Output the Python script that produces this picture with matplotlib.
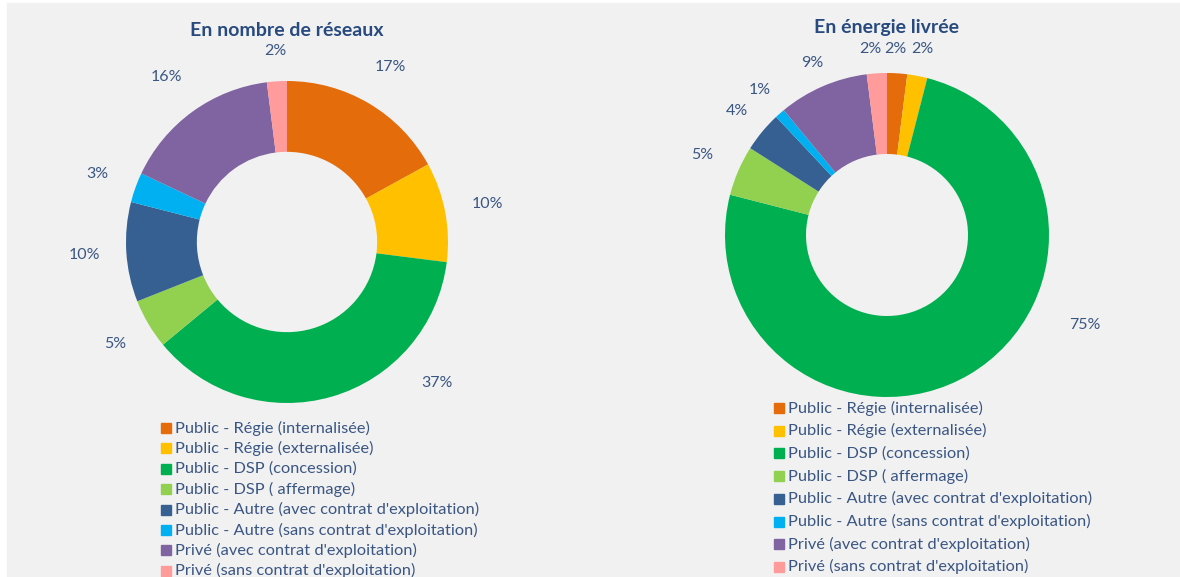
import numpy as np
import matplotlib.pyplot as plt
from matplotlib.lines import Line2D

# data
categories = [
    "Public - Régie (internalisée)",
    "Public - Régie (externalisée)",
    "Public - DSP (concession)",
    "Public - DSP ( affermage)",
    "Public - Autre (avec contrat d'exploitation)",
    "Public - Autre (sans contrat d'exploitation)",
    "Privé (avec contrat d'exploitation)",
    "Privé (sans contrat d'exploitation)",
]
reseaux = [17, 10, 37, 5, 10, 3, 16, 2]
energie = [2, 2, 75, 5, 4, 1, 9, 2]

colors = ["#E46C0A", "#FFC000", "#00B050", "#92D050",
          "#376092", "#00B0F0", "#8064A2", "#FF9B9B"]
txt_col = "#3A5683"
title_col = "#284A7E"
bg = "#F1F1F1"

plt.rcParams['font.family'] = ['Lato', 'DejaVu Sans']

W, H = 1180, 577
fig = plt.figure(figsize=(W / 100, H / 100), dpi=100, facecolor="white")
fig.patches.append(plt.Rectangle((7 / W, 0), 1, (H - 3) / H,
                                 transform=fig.transFigure, color=bg, zorder=-10))


def donut(cx, cy, R, values, hole, title, title_y, label_r, shifts):
    L = 1.45
    half = L * R
    ax = fig.add_axes([(cx - half) / W, (H - cy - half) / H, 2 * half / W, 2 * half / H])
    ax.pie(values, colors=colors, startangle=90, counterclock=False,
           wedgeprops=dict(width=1 - hole, linewidth=0))
    ax.set_xlim(-L, L)
    ax.set_ylim(-L, L)
    ax.set_aspect('equal')
    ax.axis('off')
    total = float(sum(values))
    cum = 0.0
    for i, v in enumerate(values):
        mid = 90 - (cum + v / 2) / total * 360 + shifts[i]
        cum += v
        a = np.deg2rad(mid)
        ax.text(label_r[i] * np.cos(a), label_r[i] * np.sin(a), f"{v}%",
                ha='center', va='center', fontsize=11.5, color=txt_col)
    fig.text(cx / W, 1 - title_y / H, title, ha='center', va='center',
             fontsize=14, fontweight='bold', color=title_col)


def legend(x, y0, dy):
    for i, (lab, c) in enumerate(zip(categories, colors)):
        yy = 1 - (y0 + i * dy) / H
        fig.add_artist(Line2D([x / W], [yy], marker='s', markersize=6.5,
                              color=c, linestyle='none', transform=fig.transFigure))
        fig.text((x + 9) / W, yy, lab, ha='left', va='center',
                 fontsize=11.8, color=txt_col)


donut(287, 242, 161, reseaux, 0.56, "En nombre de réseaux", 31,
      [1.26, 1.27, 1.28, 1.24, 1.26, 1.25, 1.27, 1.19],
      [0, 0, 30.6, 0, 0, 0, 0, 0])
donut(887, 235, 162, energie, 0.5, "En énergie livrée", 27,
      [1.15, 1.17, 1.34, 1.24, 1.2, 1.19, 1.16, 1.15],
      [1, 0, 35, 0, 0, 0, 0, 1.6])

legend(166, 428, 20.4)
legend(779, 408, 22.7)

fig.savefig("out.png", dpi=100, facecolor=fig.get_facecolor())
